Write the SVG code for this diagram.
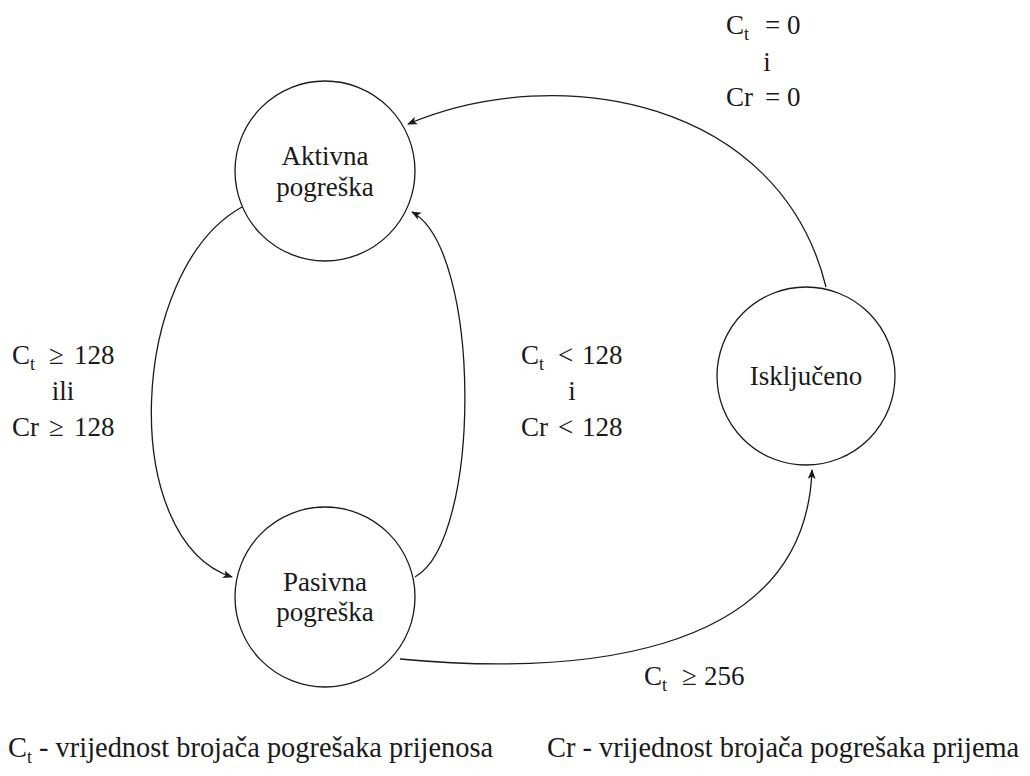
<svg xmlns="http://www.w3.org/2000/svg" width="1030" height="776" viewBox="0 0 1030 776">
<style>
.node{fill:#fff;stroke:#1a1a1a;stroke-width:1.3}
.t{font-size:27px;fill:#1a1a1a}
.lg{font-size:28.4px}
.m{text-anchor:middle}
.sub{font-size:18px}
.edge{fill:none;stroke:#1a1a1a;stroke-width:1.3}
</style>
<defs>
<marker id="arr" viewBox="0 0 10 10" refX="9" refY="5" markerWidth="10" markerHeight="10" markerUnits="userSpaceOnUse" orient="auto">
<path d="M0,1 L10,5 L0,9 L2.5,5 Z" fill="#1a1a1a"/>
</marker>
</defs>
<rect width="1030" height="776" fill="#fff"/>
<g id="connectors">
<path class="edge" d="M242,207 C128,270 118,540 232,577" marker-end="url(#arr)"/>
<path class="edge" d="M415,577 C482,540 482,250 412,212" marker-end="url(#arr)"/>
<path class="edge" d="M400,659 C560,674 805,665 812,470" marker-end="url(#arr)"/>
<path class="edge" d="M826,287 C780,100 560,60 408,124" marker-end="url(#arr)"/>
</g>
<g font-family="Liberation Serif, serif">
<g id="aktivna">
<circle class="node" cx="325" cy="171" r="90"/>
<text class="t m" x="325" y="165">Aktivna</text>
<text class="t m" x="325" y="196">pogreška</text>
</g>
<g id="pasivna">
<circle class="node" cx="325" cy="597" r="90"/>
<text class="t m" x="325" y="591">Pasivna</text>
<text class="t m" x="325" y="621">pogreška</text>
</g>
<g id="iskljuceno">
<circle class="node" cx="806" cy="376" r="89"/>
<text class="t m" x="806" y="385">Isključeno</text>
</g>
<g id="label-left">
<text class="t" x="12" y="364">C<tspan class="sub" dy="6">t</tspan><tspan x="49" dy="-6">≥</tspan><tspan x="74">128</tspan></text>
<text class="t m" x="63" y="400">ili</text>
<text class="t" x="12" y="436">Cr<tspan x="49">≥</tspan><tspan x="74">128</tspan></text>
</g>
<g id="label-mid">
<text class="t" x="521" y="364">C<tspan class="sub" dy="6">t</tspan><tspan x="558" dy="-6">&lt;</tspan><tspan x="582">128</tspan></text>
<text class="t m" x="572" y="400">i</text>
<text class="t" x="521" y="436">Cr<tspan x="558">&lt;</tspan><tspan x="582">128</tspan></text>
</g>
<g id="label-top">
<text class="t" x="726" y="34">C<tspan class="sub" dy="6">t</tspan><tspan x="765" dy="-6">=</tspan><tspan x="787">0</tspan></text>
<text class="t m" x="767" y="71">i</text>
<text class="t" x="726" y="106">Cr<tspan x="765">=</tspan><tspan x="787">0</tspan></text>
</g>
<g id="label-bottom">
<text class="t" x="644" y="685">C<tspan class="sub" dy="6">t</tspan><tspan x="682" dy="-6">≥</tspan><tspan x="704">256</tspan></text>
</g>
<g id="legend">
<text class="t lg" x="8" y="757">C<tspan class="sub" dy="6">t</tspan><tspan dy="-6"> - vrijednost brojača pogrešaka prijenosa</tspan></text>
<text class="t lg" x="547" y="757">Cr - vrijednost brojača pogrešaka prijema</text>
</g>
</g>
</svg>
